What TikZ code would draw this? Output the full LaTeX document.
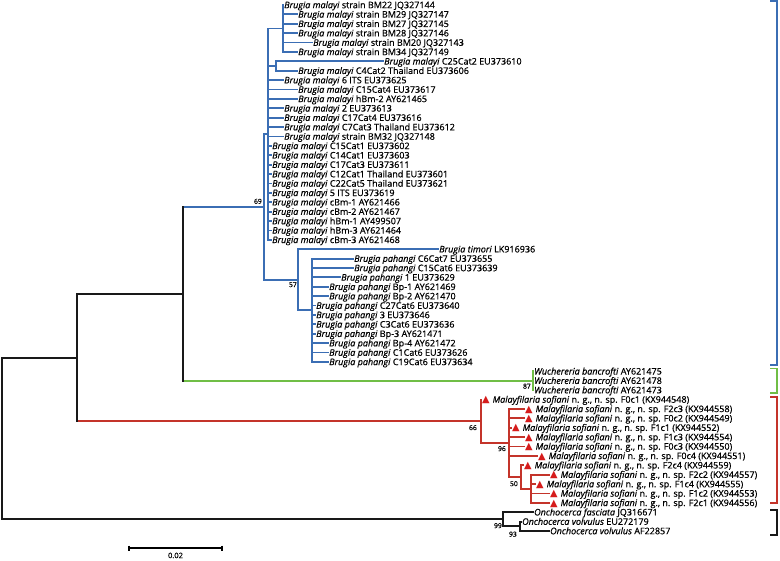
\documentclass[tikz,border=0pt]{standalone}
\usepackage{fontspec}
\setmainfont{Open Sans}[FakeBold=0.6]
\newfontfamily\symfont{DejaVu Sans}
\usetikzlibrary{calc}
\definecolor{cblue}{RGB}{59,110,180}
\definecolor{cgreen}{RGB}{112,190,70}
\definecolor{cred}{RGB}{196,52,42}
\definecolor{ctri}{RGB}{214,28,28}
\definecolor{cblack}{RGB}{25,25,25}
\newcommand\BMa{\textit{Brugia malayi}}
\newcommand\BPa{\textit{Brugia pahangi}}
\newcommand\WBa{\textit{Wuchereria bancrofti}}
\newcommand\MSo{{\symfont\color{ctri}\fontsize{9.8}{9.8}\selectfont▲}\hspace{0.6pt} \textit{Malayfilaria sofiani} n. g., n. sp.}
\newcommand\lf[6]{%
  \node[lbl] (#1) at (#3, 5+9.393*#2) {#6};
  \draw[br,#5] (#4 |- #1.west) -- (#1.west);}
\begin{document}
\begin{tikzpicture}[x=1pt,y=-1pt,
  lbl/.style={anchor=west,inner xsep=1pt,inner ysep=0pt,text height=6.4pt,text depth=0pt,font=\fontsize{9}{9}\selectfont},
  br/.style={line width=1.8pt,line cap=rect},
  kbr/.style={line width=2pt,line cap=rect,cblack},
  boot/.style={inner sep=0pt,font=\fontsize{6.8}{6.8}\selectfont},
  bracket/.style={line width=1.5pt}]
\fill[white] (0,0) rectangle (780,561);
\useasboundingbox (0,0) rectangle (780,561);
% internal nodes
\coordinate (H) at (283,28.48);
\coordinate (I) at (276,66.05);
\coordinate (F) at (268,134.15);
\coordinate (K) at (312,310.27);
\coordinate (G) at (298,279.74);
\coordinate (E) at (264,206.95);
\coordinate (W) at (533,380.72);
\coordinate (D) at (183,293.83);
\coordinate (P) at (531,488.74);
\coordinate (N) at (521,477.0);
\coordinate (M) at (509,442.95);
\coordinate (L) at (481,421.23);
\coordinate (C) at (77,357.53);
\coordinate (B) at (520,526.31);
\coordinate (A) at (503,519.27);
\coordinate (R) at (2,438.4);
% Brugia malayi
\lf{b0}{0}{283}{H}{cblue}{\BMa{} strain BM22 JQ327144}
\lf{b1}{1}{297}{H}{cblue}{\BMa{} strain BM29 JQ327147}
\lf{b2}{2}{297}{H}{cblue}{\BMa{} strain BM27 JQ327145}
\lf{b3}{3}{297}{H}{cblue}{\BMa{} strain BM28 JQ327146}
\lf{b4}{4}{312}{H}{cblue}{\BMa{} strain BM20 JQ327143}
\lf{b5}{5}{297}{H}{cblue}{\BMa{} strain BM34 JQ327149}
\lf{b6}{6}{383}{I}{cblue}{\BMa{} C25Cat2 EU373610}
\lf{b7}{7}{297}{I}{cblue}{\BMa{} C4Cat2 Thailand EU373606}
\lf{b8}{8}{283}{F}{cblue}{\BMa{} 6 ITS EU373625}
\lf{b9}{9}{297}{F}{cblue}{\BMa{} C15Cat4 EU373617}
\lf{b10}{10}{297}{F}{cblue}{\BMa{} hBm-2 AY621465}
\lf{b11}{11}{283}{F}{cblue}{\BMa{} 2 EU373613}
\lf{b12}{12}{283}{F}{cblue}{\BMa{} C17Cat4 EU373616}
\lf{b13}{13}{283}{F}{cblue}{\BMa{} C7Cat3 Thailand EU373612}
\lf{b14}{14}{283}{F}{cblue}{\BMa{} strain BM32 JQ327148}
\lf{b15}{15}{271}{F}{cblue}{\BMa{} C15Cat1 EU373602}
\lf{b16}{16}{271}{F}{cblue}{\BMa{} C14Cat1 EU373603}
\lf{b17}{17}{271}{F}{cblue}{\BMa{} C17Cat3 EU373611}
\lf{b18}{18}{271}{F}{cblue}{\BMa{} C12Cat1 Thailand EU373601}
\lf{b19}{19}{271}{F}{cblue}{\BMa{} C22Cat5 Thailand EU373621}
\lf{b20}{20}{271}{F}{cblue}{\BMa{} 5 ITS EU373619}
\lf{b21}{21}{271}{F}{cblue}{\BMa{} cBm-1 AY621466}
\lf{b22}{22}{271}{F}{cblue}{\BMa{} cBm-2 AY621467}
\lf{b23}{23}{271}{F}{cblue}{\BMa{} hBm-1 AY499507}
\lf{b24}{24}{271}{F}{cblue}{\BMa{} hBm-3 AY621464}
\lf{b25}{25}{271}{F}{cblue}{\BMa{} cBm-3 AY621468}
% Brugia timori / pahangi
\lf{t26}{26}{438}{G}{cblue}{\textit{Brugia timori} LK916936}
\lf{p27}{27}{353}{K}{cblue}{\BPa{} C6Cat7 EU373655}
\lf{p28}{28}{353}{K}{cblue}{\BPa{} C15Cat6 EU373639}
\lf{p29}{29}{340}{K}{cblue}{\BPa{} 1 EU373629}
\lf{p30}{30}{328}{K}{cblue}{\BPa{} Bp-1 AY621469}
\lf{p31}{31}{328}{K}{cblue}{\BPa{} Bp-2 AY621470}
\lf{p32}{32}{315}{K}{cblue}{\BPa{} C27Cat6 EU373640}
\lf{p33}{33}{315}{K}{cblue}{\BPa{} 3 EU373646}
\lf{p34}{34}{315}{K}{cblue}{\BPa{} C3Cat6 EU373636}
\lf{p35}{35}{315}{K}{cblue}{\BPa{} Bp-3 AY621471}
\lf{p36}{36}{328}{K}{cblue}{\BPa{} Bp-4 AY621472}
\lf{p37}{37}{328}{K}{cblue}{\BPa{} C1Cat6 EU373626}
\lf{p38}{38}{328}{K}{cblue}{\BPa{} C19Cat6 EU373634}
% Wuchereria
\lf{w39}{39}{533}{W}{cgreen}{\WBa{} AY621475}
\lf{w40}{40}{533}{W}{cgreen}{\WBa{} AY621478}
\lf{w41}{41}{533}{W}{cgreen}{\WBa{} AY621473}
% Malayfilaria
\lf{m42}{42}{481}{L}{cred}{\MSo{} F0c1 (KX944548)}
\lf{m43}{43}{524}{M}{cred}{\MSo{} F2c3 (KX944558)}
\lf{m44}{44}{524}{M}{cred}{\MSo{} F0c2 (KX944549)}
\lf{m45}{45}{511}{M}{cred}{\MSo{} F1c1 (KX944552)}
\lf{m46}{46}{524}{M}{cred}{\MSo{} F1c3 (KX944554)}
\lf{m47}{47}{524}{M}{cred}{\MSo{} F0c3 (KX944550)}
\lf{m48}{48}{537}{M}{cred}{\MSo{} F0c4 (KX944551)}
\lf{m49}{49}{523}{N}{cred}{\MSo{} F2c4 (KX944559)}
\lf{m50}{50}{549}{P}{cred}{\MSo{} F2c2 (KX944557)}
\lf{m51}{51}{535}{P}{cred}{\MSo{} F1c4 (KX944555)}
\lf{m52}{52}{549}{P}{cred}{\MSo{} F1c2 (KX944553)}
\lf{m53}{53}{549}{P}{cred}{\MSo{} F2c1 (KX944556)}
% Onchocerca
\lf{o54}{54}{533}{A}{cblack}{\textit{Onchocerca fasciata} JQ316671}
\lf{o55}{55}{521}{B}{cblack}{\textit{Onchocerca volvulus} EU272179}
\lf{o56}{56}{549}{B}{cblack}{\textit{Onchocerca volvulus} AF22857}
% verticals and inner branches
\draw[br,cblue] (H |- b0.west) -- (H |- b5.west);
\draw[br,cblue] (I |- b6.west) -- (I |- b7.west);
\draw[br,cblue] (F |- H) -- (F |- b25.west);
\draw[br,cblue] (F |- H) -- (H);
\draw[br,cblue] (F |- I) -- (I);
\draw[br,cblue] (K |- p27.west) -- (K |- p38.west);
\draw[br,cblue] (G |- t26.west) -- (G |- K);
\draw[br,cblue] (G |- K) -- (K);
\draw[br,cblue] (E |- F) -- (E |- G);
\draw[br,cblue] (E |- F) -- (F);
\draw[br,cblue] (E |- G) -- (G);
\draw[br,cgreen] (W |- w39.west) -- (W |- w41.west);
\draw[br,cblue] (D |- E) -- (E);
\draw[br,cgreen] (D |- W) -- (W);
\draw[kbr] (D |- E) -- (D |- W);
\draw[br,cred] (P |- m50.west) -- (P |- m53.west);
\draw[br,cred] (N |- m49.west) -- (N |- P);
\draw[br,cred] (N |- P) -- (P);
\draw[br,cred] (M |- m43.west) -- (M |- N);
\draw[br,cred] (M |- N) -- (N);
\draw[br,cred] (L |- m42.west) -- (L |- M);
\draw[br,cred] (L |- M) -- (M);
\draw[br,cred] (C |- L) -- (L);
\draw[kbr] (C |- D) -- (D);
\draw[kbr] (C |- D) -- (C |- L);
\draw[br,cblack] (B |- o55.west) -- (B |- o56.west);
\draw[br,cblack] (A |- o54.west) -- (A |- B);
\draw[br,cblack] (A |- B) -- (B);
\draw[kbr] (R |- C) -- (C);
\draw[kbr] (R |- A) -- (A);
\draw[kbr] (R |- C) -- (R |- A);
% bootstrap values
\node[boot,anchor=south east] (bs69) at (262,204) {69};
\node[boot,anchor=north east] (bs57) at (297,282) {57};
\node[boot,anchor=north east] (bs87) at (531,383.5) {87};
\node[boot,anchor=north east] (bs66) at (477,425) {66};
\node[boot,anchor=north east] (bs96) at (506,446) {96};
\node[boot,anchor=north east] (bs50) at (518,481) {50};
\node[boot,anchor=north east] (bs99) at (502,523) {99};
\node[boot,anchor=north east] (bs93) at (517,531.5) {93};
% scale bar
\coordinate (sb1) at (129,548);
\coordinate (sb2) at (222,548);
\draw[line width=1.3pt] (sb1) -- (sb2);
\draw[line width=1.3pt] ($(sb1)+(0,-2.5)$) -- ($(sb1)+(0,2.5)$);
\draw[line width=1.3pt] ($(sb2)+(0,-2.5)$) -- ($(sb2)+(0,2.5)$);
\node[inner sep=0pt,font=\fontsize{7.5}{7.5}\selectfont,anchor=north] (sbl) at (175.5,552.5) {0.02};
% clade brackets
\draw[bracket,cblue] (770,1) -- (777,1) -- (777,365) -- (770,365);
\draw[bracket,cgreen] (770,368.5) -- (777,368.5) -- (777,393) -- (770,393);
\draw[bracket,cred] (770,397) -- (777,397) -- (777,503) -- (770,503);
\draw[bracket,cblack] (770,510) -- (777,510) -- (777,535) -- (770,535);
\end{tikzpicture}
\end{document}
